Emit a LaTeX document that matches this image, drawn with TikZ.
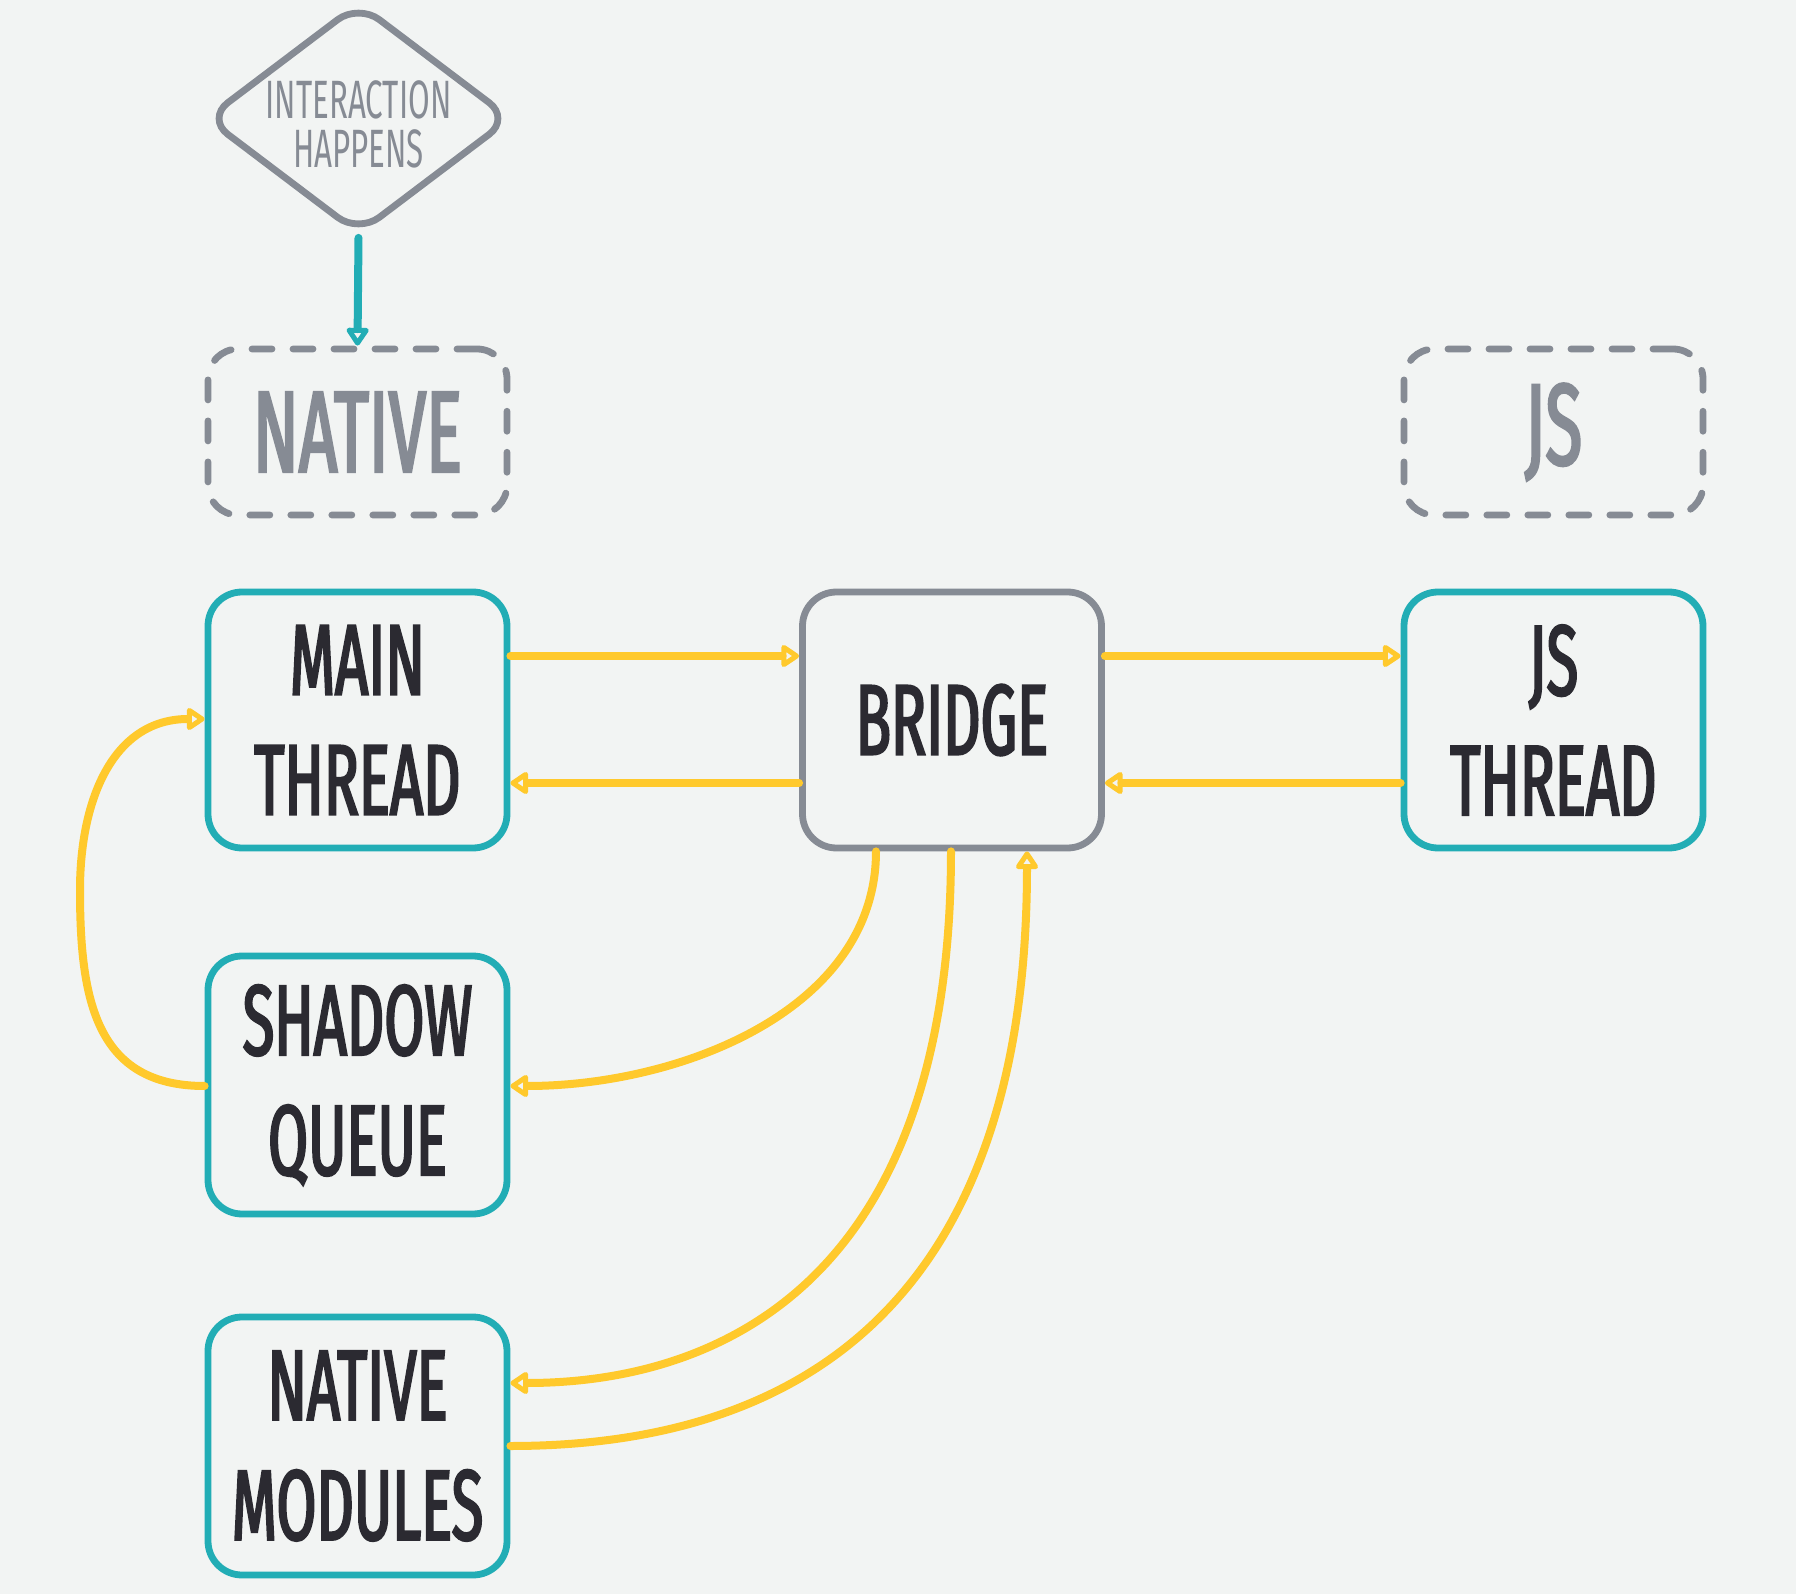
\documentclass[tikz,border=0pt]{standalone}
\usepackage{fontspec}
\setmainfont{Fira Sans}[FakeStretch=0.58, BoldFont={Fira Sans}, BoldFeatures={FakeStretch=0.58, FakeBold=2.2}]
\usetikzlibrary{arrows.meta,shapes.geometric}
\definecolor{bgc}{HTML}{F2F4F3}
\definecolor{tealc}{HTML}{22ADB5}
\definecolor{grayc}{HTML}{868B94}
\definecolor{yelc}{HTML}{FFC92C}
\definecolor{txtc}{HTML}{2B2A31}
\tikzset{
  box/.style={draw=tealc, line width=3.4pt, rounded corners=17pt, minimum width=149.5pt, minimum height=128pt, inner sep=0pt, align=center, text=txtc, font=\fontsize{50}{60}\selectfont\bfseries},
  brbox/.style={box, draw=grayc},
  dbox/.style={draw=grayc, line width=3.4pt, rounded corners=15pt, dash pattern=on 10pt off 10.5pt, line cap=round, minimum width=149.5pt, minimum height=83pt, inner sep=0pt, text=grayc, font=\fontsize{58}{60}\selectfont\bfseries},
  ya/.style={draw=yelc, line width=4pt, line cap=round, -{Triangle[open, length=10pt, width=12.5pt, round]}},
  ta/.style={draw=tealc, line width=4pt, line cap=round, -{Triangle[open, length=10pt, width=12.5pt, round]}},
}
\begin{document}
\begin{tikzpicture}[x=0.5pt,y=-0.5pt]
\fill[bgc] (0,0) rectangle (1796,1594);
\useasboundingbox (0,0) rectangle (1796,1594);
% diamond
\node[diamond, draw=grayc, line width=3.4pt, rounded corners=13pt, minimum width=153pt, minimum height=116pt, inner sep=0pt] (di) at (358.5,118.5) {};
\node[text=grayc, align=center, font=\fontsize{27}{24.5}\selectfont] (dit) at (358.5,124) {INTERACTION\\HAPPENS};
% dashed boxes
\node[dbox] (nat) at (357.5,432) {NATIVE};
\node[dbox] (jsb) at (1553.5,432) {JS};
% main boxes
\node[box] (mt) at (357.5,720) {MAIN\\THREAD};
\node[brbox] (br) at (952,720) {BRIDGE};
\node[box] (jt) at (1553.5,720) {JS\\THREAD};
\node[box, minimum height=129pt] (sq) at (357.5,1085) {SHADOW\\QUEUE};
\node[box, minimum height=129pt] (nm) at (357.5,1446) {NATIVE\\MODULES};
% connectors
\draw[ta] (di.south) -- (nat.north);
\draw[ya] (mt.east |- 0,656) -- (br.west |- 0,656);
\draw[ya] (br.west |- 0,783) -- (mt.east |- 0,783);
\draw[ya] (br.east |- 0,656) -- (jt.west |- 0,656);
\draw[ya] (jt.west |- 0,783) -- (br.east |- 0,783);
\draw[ya] (br.south -| 876,0) .. controls (876,1010) and (680,1086) .. (sq.east |- 0,1086);
\draw[ya] (br.south -| 951,0) .. controls (951,1300) and (700,1383) .. (nm.east |- 0,1383);
\draw[ya] (nm.east |- 0,1446) .. controls (850,1446) and (1027,1250) .. (br.south -| 1027,0);
\draw[ya] (sq.west |- 0,1086) to[out=180,in=-90,looseness=1.2] (80,890) to[out=90,in=180,looseness=1.1] (mt.west |- 0,719);
\end{tikzpicture}
\end{document}
